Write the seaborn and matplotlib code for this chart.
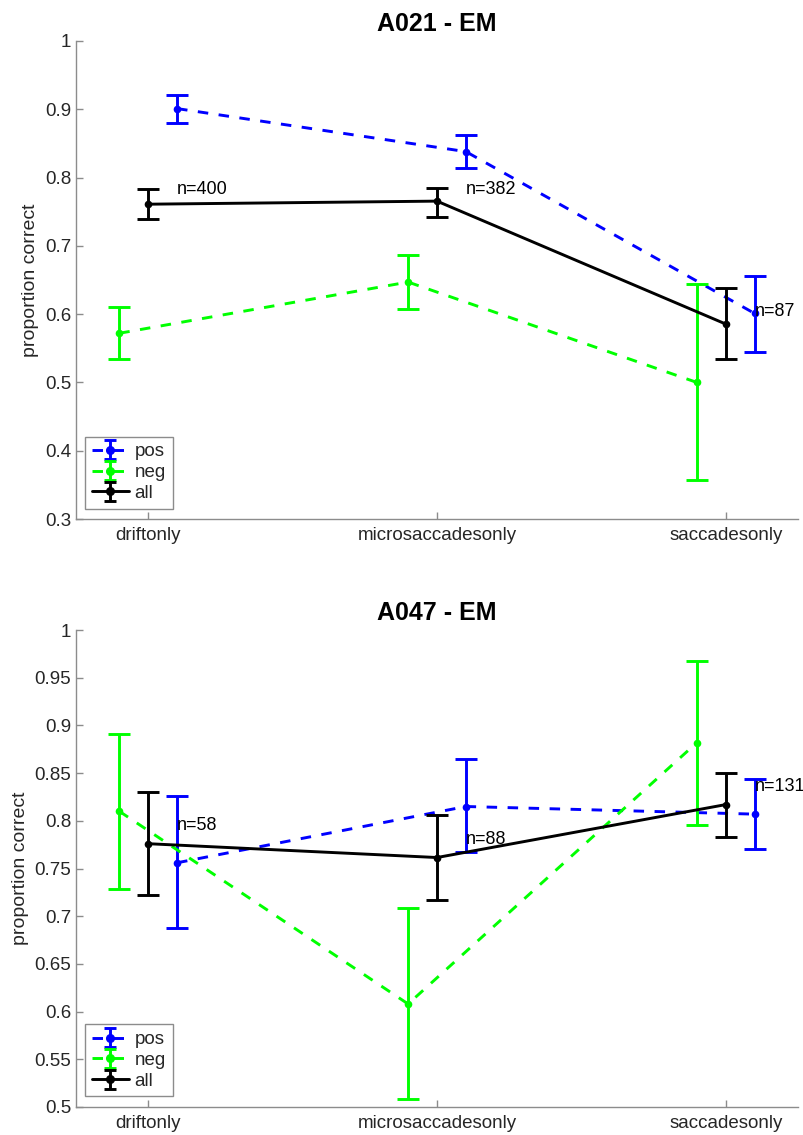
import numpy as np
import pandas as pd
import matplotlib
matplotlib.use("Agg")
import matplotlib.pyplot as plt
import seaborn as sns

categories = ["driftonly", "microsaccadesonly", "saccadesonly"]
series_names = ["pos", "neg", "all"]

# A021 - EM
a021_pos = [0.901, 0.838, 0.601]
a021_pos_lo = [0.880, 0.8135, 0.544]
a021_pos_hi = [0.921, 0.862, 0.656]
a021_neg = [0.572, 0.647, 0.500]
a021_neg_lo = [0.535, 0.608, 0.357]
a021_neg_hi = [0.611, 0.686, 0.644]
a021_all = [0.761, 0.7655, 0.5855]
a021_all_lo = [0.740, 0.742, 0.534]
a021_all_hi = [0.783, 0.785, 0.638]
a021_n = [400, 382, 87]
a021_n_y = [0.782, 0.783, 0.6045]

# A047 - EM
a047_pos = [0.756, 0.815, 0.807]
a047_pos_lo = [0.6875, 0.767, 0.770]
a047_pos_hi = [0.826, 0.8645, 0.844]
a047_neg = [0.810, 0.608, 0.882]
a047_neg_lo = [0.7285, 0.508, 0.796]
a047_neg_hi = [0.891, 0.7086, 0.968]
a047_all = [0.776, 0.7615, 0.817]
a047_all_lo = [0.722, 0.7165, 0.783]
a047_all_hi = [0.830, 0.806, 0.850]
a047_n = [58, 88, 131]
a047_n_y = [0.795, 0.780, 0.836]

sns.set_theme(style="ticks")
plt.rcParams["font.family"] = ["Liberation Sans", "DejaVu Sans"]
plt.rcParams["xtick.direction"] = "in"
plt.rcParams["ytick.direction"] = "in"

colors = {"pos": "#0000ff", "neg": "#00ff00", "all": "#000000"}
offsets = {"pos": 0.1, "neg": -0.1, "all": 0.0}
styles = {"pos": (0, (3.6, 3.6)), "neg": (0, (3.6, 3.6)), "all": "-"}

fig = plt.figure(figsize=(8.04, 11.35), dpi=100)
ax1 = fig.add_axes([0.0945, 0.5427, 0.898, 0.4212])
ax2 = fig.add_axes([0.0945, 0.0247, 0.898, 0.4202])

panels = [
    (ax1, "A021 - EM",
     {"pos": (a021_pos, a021_pos_lo, a021_pos_hi),
      "neg": (a021_neg, a021_neg_lo, a021_neg_hi),
      "all": (a021_all, a021_all_lo, a021_all_hi)},
     a021_n, a021_n_y, (0.3, 1.0), np.round(np.arange(0.3, 1.0001, 0.1), 2)),
    (ax2, "A047 - EM",
     {"pos": (a047_pos, a047_pos_lo, a047_pos_hi),
      "neg": (a047_neg, a047_neg_lo, a047_neg_hi),
      "all": (a047_all, a047_all_lo, a047_all_hi)},
     a047_n, a047_n_y, (0.5, 1.0), np.round(np.arange(0.5, 1.0001, 0.05), 2)),
]

grey = "#8c8c8c"
for ax, title, data, ns, ny, ylim, yticks in panels:
    handles = []
    for name in series_names:
        mean, lo, hi = data[name]
        x = np.arange(1, 4) + offsets[name]
        df = pd.DataFrame({"x": x, "y": mean})
        sns.lineplot(data=df, x="x", y="y", ax=ax, color=colors[name],
                     linestyle=styles[name], linewidth=2.1, marker="o",
                     markersize=5.5, markeredgewidth=0, sort=False,
                     legend=False, zorder=3)
        yerr = np.array([np.array(mean) - np.array(lo), np.array(hi) - np.array(mean)])
        ax.errorbar(x, mean, yerr=yerr, fmt="none", ecolor=colors[name],
                    elinewidth=2.1, capsize=8, capthick=2.1, zorder=3)
        h = ax.errorbar([np.nan], [np.nan], yerr=[[np.nan], [np.nan]],
                        color=colors[name], linestyle=styles[name],
                        linewidth=2.1, marker="o", markersize=5.5,
                        elinewidth=2.1, capsize=4, capthick=2.1, label=name)
        handles.append(h)
    for i, (n, yy) in enumerate(zip(ns, ny)):
        ax.text(i + 1 + 0.1, yy, f"n={n}", ha="left", va="center",
                fontsize=13, color="black", zorder=5)
    ax.set_xlim(0.75, 3.25)
    ax.set_ylim(*ylim)
    ax.set_xticks([1, 2, 3])
    ax.set_xticklabels(categories)
    ax.set_yticks(yticks)
    ax.set_yticklabels([f"{v:g}" for v in yticks])
    ax.set_xlabel("")
    ax.set_ylabel("proportion correct", fontsize=14, color="#262626")
    ax.set_title(title, fontsize=18, fontweight="bold", color="black", pad=7)
    ax.tick_params(axis="both", labelsize=13.5, colors=grey, labelcolor="#262626",
                   length=5, width=1, direction="in")
    ax.tick_params(axis="x", pad=6)
    for s in ["top", "right"]:
        ax.spines[s].set_visible(False)
    for s in ["left", "bottom"]:
        ax.spines[s].set_color(grey)
        ax.spines[s].set_linewidth(1.0)
    leg = ax.legend(handles=handles, loc="lower left", fontsize=13.5,
                    frameon=True, fancybox=False, framealpha=1,
                    edgecolor=grey, handlelength=2.0, handletextpad=0.3,
                    borderpad=0.35, labelspacing=0.2, borderaxespad=0,
                    bbox_to_anchor=(0.0125, 0.022))
    leg.get_frame().set_linewidth(1.0)

fig.savefig("out.png", dpi=100)
